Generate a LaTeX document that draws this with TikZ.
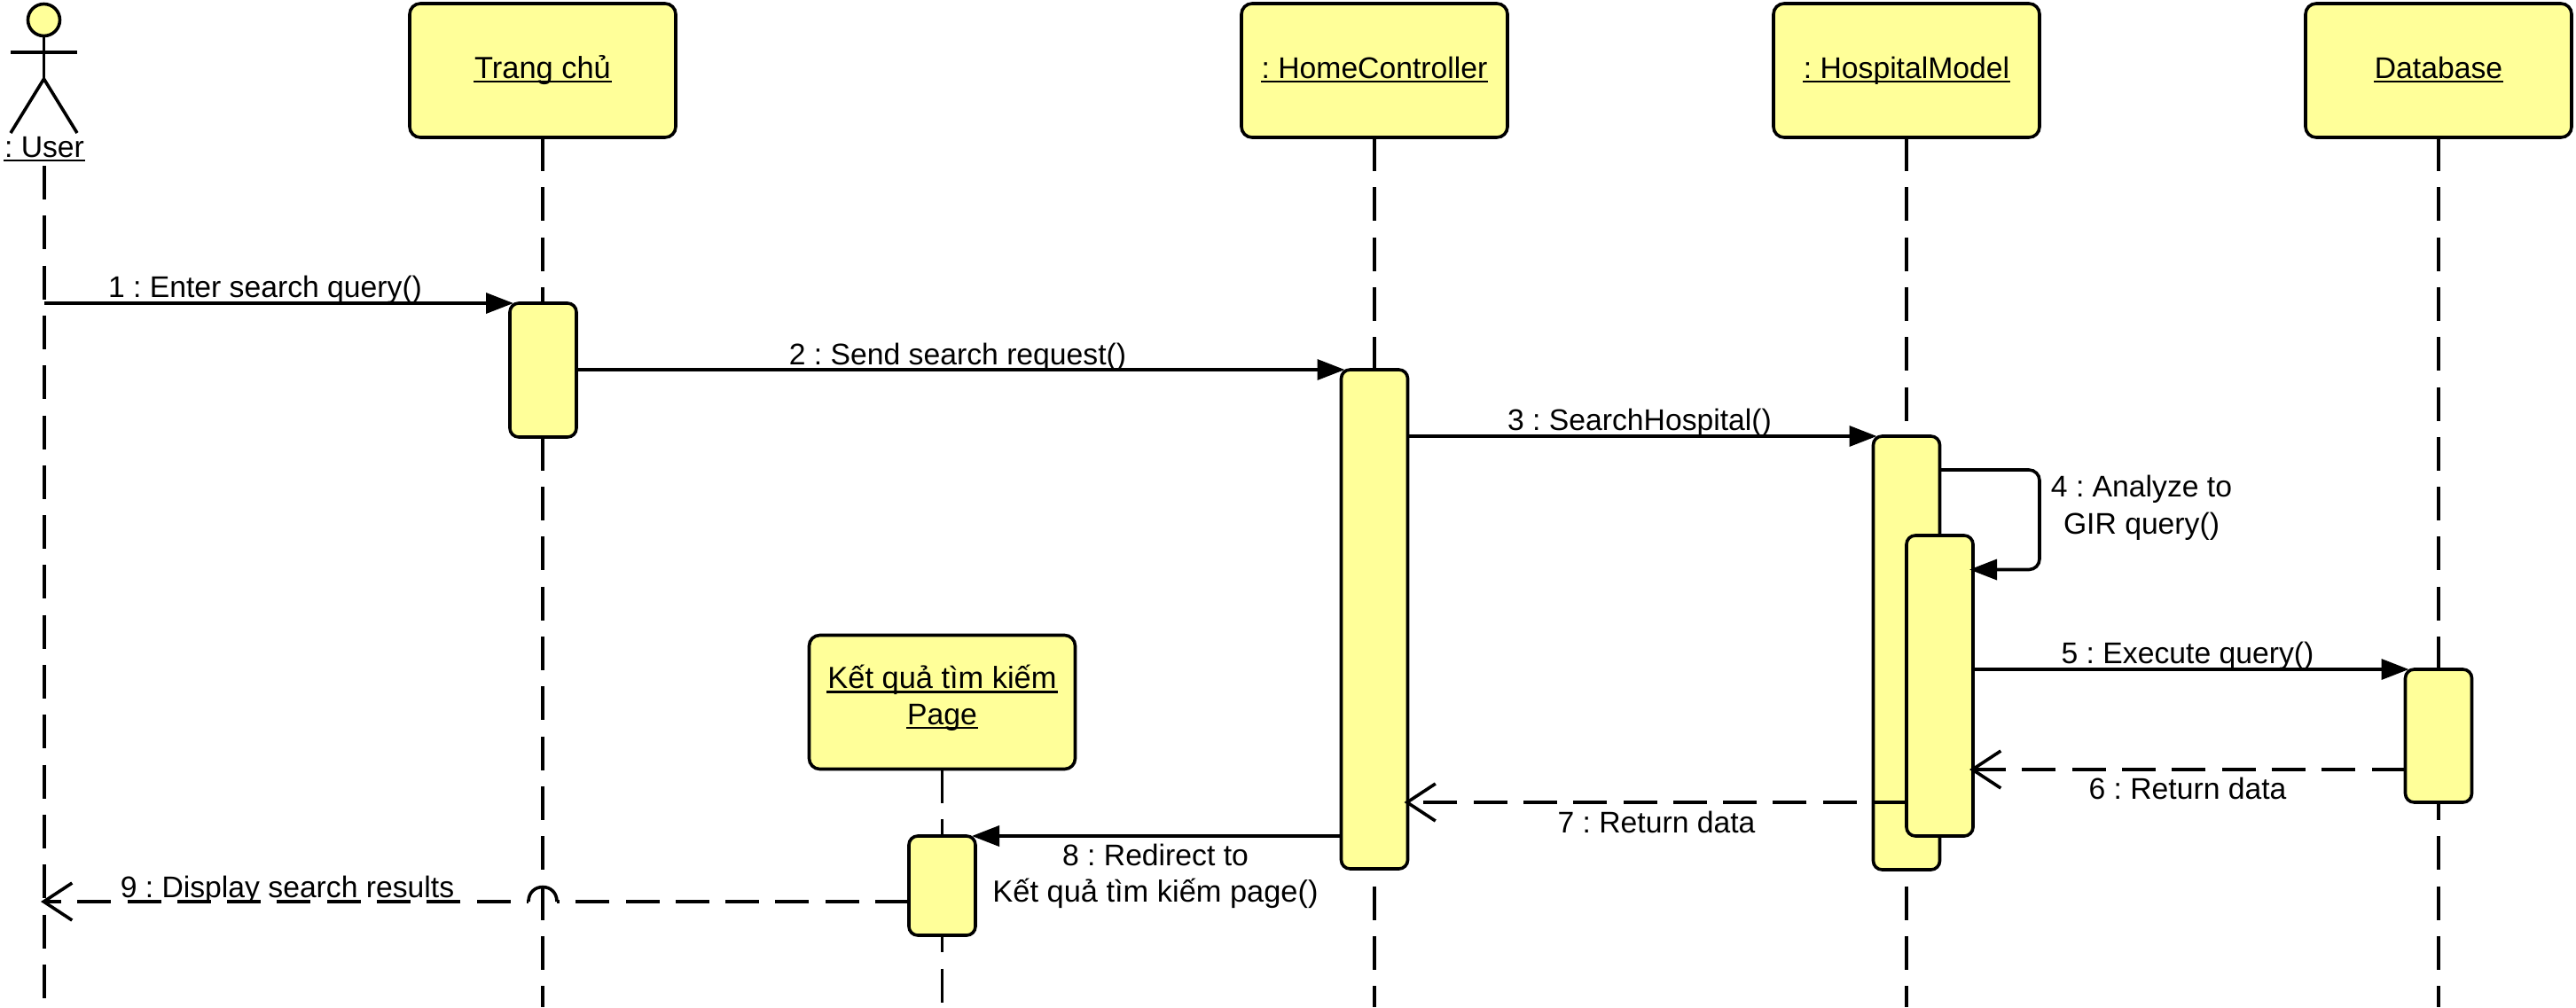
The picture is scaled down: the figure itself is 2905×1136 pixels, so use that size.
\documentclass[tikz,border=0pt]{standalone}
\usepackage{fontspec}
\setmainfont{Liberation Sans}
\usetikzlibrary{arrows.meta}
\definecolor{ubox}{HTML}{FFFF99}
\frenchspacing
\newcommand\ulword[1]{\setbox0\hbox{#1}\rlap{\kern-1pt\rule[-5pt]{\dimexpr\wd0+2pt\relax}{2.4pt}}\box0}
\newcommand\vnsize{\fontsize{34.4}{41}\selectfont}
\tikzset{
  x=1pt,y=-1pt,
  every node/.style={font=\fontsize{33.7}{41}\selectfont},
  lifebox/.style={draw,line width=3.6pt,fill=ubox,rounded corners=12pt,minimum width=300pt,minimum height=151pt,inner sep=0pt,outer sep=0pt,align=center,text height=24pt,text depth=7pt},
  actbar/.style={draw,line width=3.6pt,fill=ubox,rounded corners=10pt,minimum width=75pt,minimum height=#1,inner sep=0pt,outer sep=0pt},
  lifeline/.style={line width=3.6pt,dash pattern=on 38pt off 18.3pt},
  callmsg/.style={line width=3.6pt,shorten >=-4pt,-{Triangle[length=31pt,width=23pt]}},
  retmsg/.style={line width=3.6pt,shorten >=-4pt,dash pattern=on 38pt off 18.3pt,-{Straight Barb[length=32pt,width=42pt,line width=3.6pt]}},
  retline/.style={line width=3.6pt,dash pattern=on 38pt off 18.3pt},
  msglabel/.style={anchor=base,inner sep=0pt,align=center},
  actorline/.style={line width=3.6pt}
}
\begin{document}
\begin{tikzpicture}
\useasboundingbox (0,0) rectangle (2905,1136);
\fill[white] (0,0) rectangle (2905,1136);
% bottom reference
\coordinate (bottom) at (0,1136);
% actor
\coordinate (userfoot) at (50,187);
\node[draw,line width=3.6pt,fill=ubox,circle,minimum size=36pt,inner sep=0pt,outer sep=0pt] (head) at (49.5,22.5) {};
\coordinate (hip) at (49.5,89);
\coordinate (armL) at (12,59);
\coordinate (armR) at (87,59);
\coordinate (legL) at (12,150);
\coordinate (legR) at (87,150);
\draw[actorline] (head.south) -- (hip);
\draw[actorline] (armL) -- (armR);
\draw[actorline] (legL) -- (hip) -- (legR);
\node[msglabel] (usertxt) at (50,177) {\ulword{: User}};
% boxes
\node[lifebox] (b1) at (612,79.5) {\vnsize\ulword{Trang chủ}};
\node[lifebox] (b2) at (1550,79.5) {\ulword{: HomeController}};
\node[lifebox] (b3) at (2150,79.5) {\ulword{: HospitalModel}};
\node[lifebox] (b4) at (2750,79.5) {\ulword{Database}};
\node[lifebox] (b5) at (1062.5,792) {\raisebox{24pt}[0pt][0pt]{\makebox[0pt]{\vnsize\ulword{Kết quả tìm kiếm}}}\raisebox{-16.5pt}[0pt][0pt]{\makebox[0pt]{\ulword{Page}}}};
% lifelines
\draw[lifeline] (userfoot) -- (userfoot |- bottom);
\draw[lifeline] (b1.south) -- (b1.south |- bottom);
\draw[lifeline] (b2.south) -- (b2.south |- bottom);
\draw[lifeline] (b3.south) -- (b3.south |- bottom);
\draw[lifeline] (b4.south) -- (b4.south |- bottom);
\draw[lifeline] (b5.south) -- (b5.south |- bottom);
% activations
\node[actbar=151pt] (a1) at (612.5,417.5) {};
\node[actbar=563pt] (a2) at (1550,698.5) {};
\node[actbar=489pt] (a3) at (2150,736.5) {};
\node[actbar=339pt] (a4) at (2187.5,773.5) {};
\node[actbar=150pt] (a5) at (2750,830) {};
\node[actbar=112pt] (a8) at (1062.5,999) {};
% free ends
\coordinate (s4) at (2187.5,530);
\coordinate (c4) at (2300,586);
\coordinate (t4) at (2225,642.5);
\coordinate (y6) at (2750,868);
\coordinate (m9a) at (1025,1017);
\coordinate (h9a) at (628,1017);
\coordinate (h9b) at (596,1017);
\coordinate (m9b) at (50,1017);
% messages
\draw[callmsg] (userfoot |- a1.north) -- (a1.north west);
\draw[callmsg] (a1.east |- a2.north) -- (a2.north west);
\draw[callmsg] (a2.east |- a3.north) -- (a3.north west);
\draw[callmsg,rounded corners=12pt] (s4) -| (c4) |- (t4);
\draw[callmsg] (a4.east |- a5.north) -- (a5.north west);
\draw[retmsg] (a5.west |- y6) -- (a4.east |- y6);
\draw[retmsg] (a4.west |- a5.south) -- (a2.east |- a5.south);
\draw[callmsg] (a2.west |- a8.north) -- (a8.north east);
\draw[retline] (m9a) -- (h9a);
\draw[line width=3.6pt] (h9a) .. controls (628,995) and (596,995) .. (h9b);
\draw[retmsg,dash phase=35.9pt] (h9b) -- (m9b);
% labels
\node[msglabel] (l1) at (299,335.5) {1 : Enter search query()};
\node[msglabel] (l2) at (1080,411) {2 : Send search request()};
\node[msglabel] (l3) at (1849,485.5) {3 : SearchHospital()};
\node[msglabel] (l4a) at (2415,560.5) {4 : Analyze to};
\node[msglabel] (l4b) at (2415,602) {GIR query()};
\node[msglabel] (l5) at (2467,748.5) {5 : Execute query()};
\node[msglabel] (l6) at (2467,901.5) {6 : Return data};
\node[msglabel] (l7) at (1868,939.5) {7 : Return data};
\node[msglabel] (l8a) at (1303,976) {8 : Redirect to};
\node[msglabel] (l8b) at (1303,1017) {\vnsize Kết quả tìm kiếm page()};
\node[msglabel] (l9) at (324,1012) {9 : Display search results};
\end{tikzpicture}
\end{document}
